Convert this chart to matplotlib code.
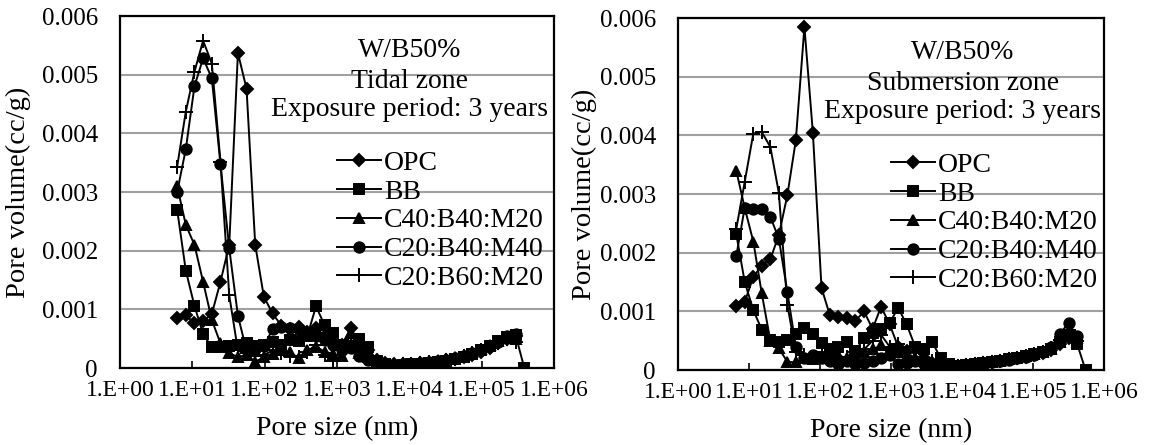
import numpy as np
import matplotlib
matplotlib.use('Agg')
import matplotlib.pyplot as plt
from matplotlib.ticker import FuncFormatter, FixedLocator, NullLocator

plt.rcParams['font.family'] = ['Liberation Serif', 'DejaVu Serif']

nan = np.nan

# pore size (nm) of the measuring points, tidal zone panel
size_tidal = [6.17, 8.13, 10.7, 14.1, 18.6, 24.5, 32.4, 42.7, 56.2, 74.1,
              97.7, 129, 170, 224, 295, 389, 513, 676, 891, 1175,
              1549, 2042, 2692, 3548, 4677, 6166, 8128, 10715, 14125, 18621,
              24547, 32359, 42658, 56234, 74131, 97724, 128825, 169824, 223872, 295121,
              389045]

opc_tidal = [0.00086, 0.00090, 0.00076, 0.00080, 0.00092, 0.00147, 0.00210, 0.00537, 0.00476, 0.00210,
             0.00121, 0.00093, 0.00072, 0.00066, 0.00070, 0.00062, 0.00068, 0.00055, 0.00045, 0.00040,
             0.00068, 0.00035, 0.00030, 0.00014, 0.00009, 0.00007, 0.00006, 0.00007, 0.00008, 0.00009,
             0.00011, 0.00013, 0.00015, 0.00019, 0.00023, 0.00028, 0.00034, 0.00042, 0.00050, 0.00055, nan]
bb_tidal = [0.00270, 0.00166, 0.00106, 0.00058, 0.00035, 0.00035, 0.00037, 0.00040, 0.00042, 0.00038,
            0.00040, 0.00045, 0.00040, 0.00048, 0.00046, 0.00055, 0.00105, 0.00073, 0.00060, 0.00040,
            0.00038, 0.00050, 0.00035, 0.00012, 0.00006, 0.00004, 0.00005, 0.00006, 0.00007, 0.00009,
            0.00010, 0.00012, 0.00015, 0.00019, 0.00024, 0.00030, 0.00038, 0.00046, 0.00053, 0.00056, 0.0]
c40b40m20_tidal = [0.00310, 0.00244, 0.00210, 0.00147, 0.00082, 0.00042, 0.00025, 0.00019, 0.00022, 0.00011,
                   0.00018, 0.00024, 0.00030, 0.00027, 0.00017, 0.00030, 0.00036, 0.00028, 0.00024, 0.00020,
                   0.00060, 0.00026, 0.00018, 0.00010, 0.00007, 0.00006, 0.00007, 0.00008, 0.00009, 0.00011,
                   0.00013, 0.00015, 0.00018, 0.00022, 0.00027, 0.00032, 0.00039, 0.00046, 0.00052, 0.00050, nan]
c20b40m40_tidal = [0.00300, 0.00373, 0.00480, 0.00528, 0.00494, 0.00348, 0.00204, 0.00089, 0.00030, 0.00032,
                   0.00038, 0.00066, 0.00070, 0.00068, 0.00066, 0.00060, 0.00055, 0.00048, 0.00040, 0.00030,
                   0.00034, 0.00020, 0.00014, 0.00008, 0.00005, 0.00004, 0.00005, 0.00006, 0.00008, 0.00010,
                   0.00012, 0.00014, 0.00017, 0.00021, 0.00026, 0.00031, 0.00037, 0.00044, 0.00054, 0.00058, nan]
c20b60m20_tidal = [0.00343, 0.00437, 0.00505, 0.00558, 0.00519, 0.00352, 0.00124, 0.00030, 0.00025, 0.00020,
                   0.00022, 0.00030, 0.00025, 0.00020, 0.00018, 0.00028, 0.00040, 0.00022, 0.00012, 0.00035,
                   0.00042, 0.00033, 0.00020, 0.00010, 0.00006, 0.00005, 0.00006, 0.00007, 0.00008, 0.00010,
                   0.00011, 0.00013, 0.00016, 0.00020, 0.00025, 0.00030, 0.00036, 0.00043, 0.00049, 0.00045, nan]

# submersion zone panel
size_sub = [6.61, 8.71, 11.5, 15.1, 20.0, 26.3, 34.7, 45.7, 60.3, 79.4,
            105, 138, 182, 240, 316, 417, 550, 724, 955, 1259,
            1660, 2188, 2884, 3802, 5012, 6607, 8710, 11482, 15136, 19953,
            26303, 34674, 45709, 60256, 79433, 104713, 138038, 181970, 239883, 316228,
            416869, 549541]

opc_sub = [0.00109, 0.00116, 0.00159, 0.00178, 0.00189, 0.00230, 0.00298, 0.00392, 0.00585, 0.00404,
           0.00140, 0.00093, 0.00091, 0.00088, 0.00084, 0.00100, 0.00070, 0.00108, 0.00078, 0.00040,
           0.00032, 0.00035, 0.00020, 0.00012, 0.00008, 0.00006, 0.00007, 0.00008, 0.00010, 0.00012,
           0.00014, 0.00016, 0.00018, 0.00020, 0.00023, 0.00026, 0.00029, 0.00034, 0.00045, 0.00055, 0.00050, nan]
bb_sub = [0.00232, 0.00150, 0.00102, 0.00069, 0.00051, 0.00048, 0.00051, 0.00062, 0.00071, 0.00062,
          0.00046, 0.00035, 0.00040, 0.00048, 0.00032, 0.00055, 0.00063, 0.00070, 0.00080, 0.00106,
          0.00078, 0.00040, 0.00035, 0.00048, 0.00020, 0.00010, 0.00006, 0.00008, 0.00010, 0.00012,
          0.00014, 0.00016, 0.00018, 0.00021, 0.00024, 0.00027, 0.00030, 0.00036, 0.00048, 0.00060, 0.00045, 0.0]
c40b40m20_sub = [0.00340, 0.00276, 0.00219, 0.00131, 0.00050, 0.00037, 0.00014, 0.00013, 0.00020, 0.00018,
                 0.00022, 0.00020, 0.00025, 0.00020, 0.00028, 0.00030, 0.00035, 0.00042, 0.00035, 0.00030,
                 0.00025, 0.00020, 0.00015, 0.00010, 0.00007, 0.00006, 0.00007, 0.00008, 0.00010, 0.00012,
                 0.00014, 0.00016, 0.00019, 0.00022, 0.00025, 0.00028, 0.00031, 0.00036, 0.00048, 0.00058, 0.00055, nan]
c20b40m40_sub = [0.00194, 0.00277, 0.00274, 0.00274, 0.00261, 0.00224, 0.00133, 0.00040, 0.00020, 0.00025,
                 0.00020, 0.00015, 0.00010, 0.00015, 0.00010, 0.00012, 0.00015, 0.00020, 0.00025, 0.00010,
                 0.00012, 0.00015, 0.00010, 0.00008, 0.00006, 0.00005, 0.00006, 0.00007, 0.00009, 0.00011,
                 0.00013, 0.00015, 0.00017, 0.00020, 0.00023, 0.00026, 0.00030, 0.00040, 0.00062, 0.00080, 0.00058, nan]
c20b60m20_sub = [0.00240, 0.00321, 0.00403, 0.00406, 0.00380, 0.00302, 0.00111, 0.00030, 0.00025, 0.00020,
                 0.00030, 0.00025, 0.00020, 0.00022, 0.00030, 0.00035, 0.00050, 0.00060, 0.00040, 0.00045,
                 0.00030, 0.00020, 0.00020, 0.00015, 0.00010, 0.00007, 0.00007, 0.00008, 0.00010, 0.00012,
                 0.00014, 0.00016, 0.00018, 0.00021, 0.00024, 0.00027, 0.00031, 0.00038, 0.00052, 0.00068, 0.00050, nan]

labels = ['OPC', 'BB', 'C40:B40:M20', 'C20:B40:M40', 'C20:B60:M20']
markers = ['D', 's', '^', 'o', '+']
msizes = [6, 6.5, 7.5, 7.5, 10]
y_ticks = [0, 0.001, 0.002, 0.003, 0.004, 0.005, 0.006]
x_ticks = [1, 1e1, 1e2, 1e3, 1e4, 1e5, 1e6]


def draw(ax, x, series, note, ylab_x):
    for y, lab, m, ms in zip(series, labels, markers, msizes):
        ax.plot(x, y, color='black', lw=1.4, marker=m, ms=ms, mew=1.4, label=lab)
    ax.set_xscale('log')
    ax.set_xlim(1, 1e6)
    ax.set_ylim(0, 0.006)
    ax.xaxis.set_major_locator(FixedLocator(x_ticks))
    ax.xaxis.set_minor_locator(NullLocator())
    ax.xaxis.set_major_formatter(FuncFormatter(lambda v, p: '1.E+%02d' % int(round(np.log10(v)))))
    ax.yaxis.set_major_locator(FixedLocator(y_ticks))
    ax.yaxis.set_major_formatter(FuncFormatter(lambda v, p: '0' if v == 0 else '%.3f' % v))
    ax.yaxis.grid(True, color='#a0a0a0', lw=1.5)
    ax.set_axisbelow(True)
    ax.tick_params(axis='x', direction='in', length=5, width=1.2, labelsize=17, pad=8.5)
    ax.tick_params(axis='y', length=0, labelsize=18, pad=16)
    for s in ax.spines.values():
        s.set_linewidth(1.6)
    ax.set_xlabel('Pore size (nm)', fontsize=20, labelpad=11)
    ax.set_ylabel('Pore volume(cc/g)', fontsize=20.5)
    ax.yaxis.set_label_coords(ylab_x, 0.5)
    for yy, line in zip([0.884, 0.795, 0.715], note):
        ax.text(0.668, yy, line, transform=ax.transAxes,
                ha='center', va='baseline', fontsize=20)
    ax.legend(loc='upper left', bbox_to_anchor=(0.50, 0.618), frameon=False, fontsize=20,
              handlelength=1.6, handletextpad=0.1, labelspacing=0.12,
              borderpad=0, borderaxespad=0)


fig = plt.figure(figsize=(11.57, 4.45), dpi=100)
ax1 = fig.add_axes([0.1037, 0.173, 0.3751, 0.791])
ax2 = fig.add_axes([0.586, 0.1685, 0.3682, 0.791])

draw(ax1, size_tidal,
     [opc_tidal, bb_tidal, c40b40m20_tidal, c20b40m40_tidal, c20b60m20_tidal],
     ['W/B50%', 'Tidal zone', 'Exposure period: 3 years'], -0.205)
draw(ax2, size_sub,
     [opc_sub, bb_sub, c40b40m20_sub, c20b40m40_sub, c20b60m20_sub],
     ['W/B50%', 'Submersion zone', 'Exposure period: 3 years'], -0.19)

fig.savefig('out.png', dpi=100)
